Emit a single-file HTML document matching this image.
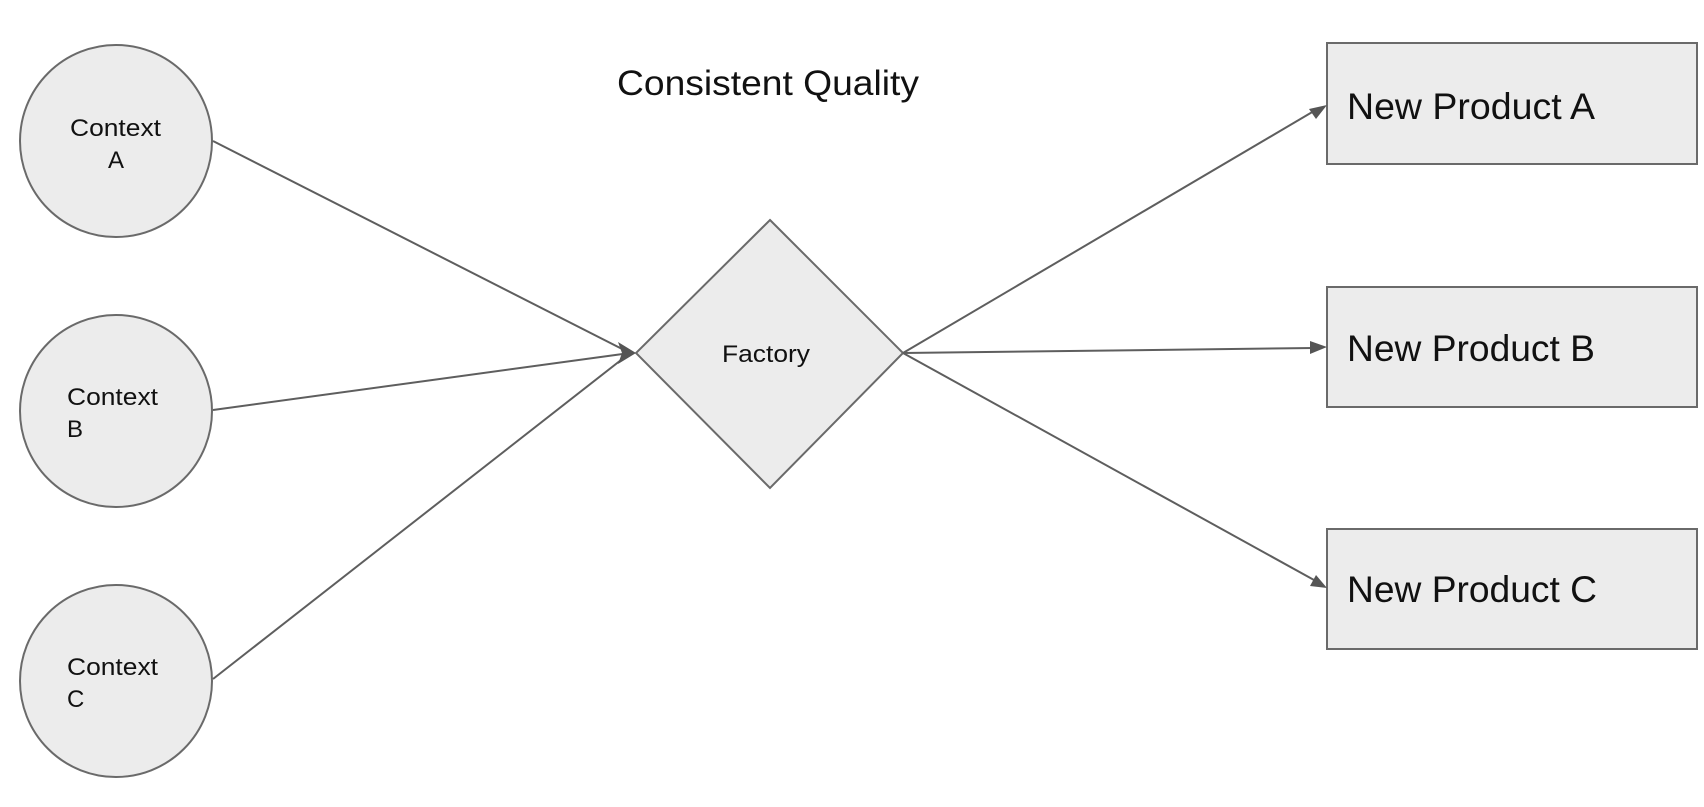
<!DOCTYPE html>
<html><head><meta charset="utf-8"><style>
html,body{margin:0;padding:0;background:#fff;}
svg{display:block;}
text{font-family:"Liberation Sans",Arial,sans-serif;fill:#111;}
</style></head><body>
<svg width="1704" height="807" viewBox="0 0 1704 807" xmlns="http://www.w3.org/2000/svg">
<g stroke="#6a6a6a" stroke-width="2" fill="#ececec">
<circle cx="116" cy="141" r="96"/>
<circle cx="116" cy="411" r="96"/>
<circle cx="116" cy="681" r="96"/>
<polygon points="770,220 903,353 770,488 636,353"/>
<rect x="1327" y="43" width="370" height="121"/>
<rect x="1327" y="287" width="370" height="120"/>
<rect x="1327" y="529" width="370" height="120"/>
</g>
<g stroke="#5e5e5e" stroke-width="2" fill="none">
<line x1="213" y1="141" x2="630" y2="353"/>
<line x1="213" y1="410" x2="630" y2="353"/>
<line x1="213" y1="679" x2="630" y2="353"/>
<line x1="903" y1="353" x2="1314" y2="111"/>
<line x1="903" y1="353" x2="1314" y2="348"/>
<line x1="903" y1="353" x2="1314" y2="580"/>
</g>
<g fill="#555">
<path d="M636,353 L618,342 L622,353 L618,364 Z"/>
<path d="M1327,105 L1309,109 L1316,119 Z"/>
<path d="M1327,347 L1310,341 L1310,354 Z"/>
<path d="M1327,588 L1316,575 L1310,586 Z"/>
</g>
<text x="617" y="95" font-size="35" textLength="302" lengthAdjust="spacingAndGlyphs">Consistent Quality</text>
<text x="70" y="136" font-size="24" textLength="91" lengthAdjust="spacingAndGlyphs">Context</text>
<text x="116" y="168" font-size="24" text-anchor="middle">A</text>
<text x="67" y="405" font-size="24" textLength="91" lengthAdjust="spacingAndGlyphs">Context</text>
<text x="67" y="437" font-size="24">B</text>
<text x="67" y="675" font-size="24" textLength="91" lengthAdjust="spacingAndGlyphs">Context</text>
<text x="67" y="707" font-size="24">C</text>
<text x="722" y="362" font-size="24" textLength="88" lengthAdjust="spacingAndGlyphs">Factory</text>
<text x="1347" y="119" font-size="37" textLength="248" lengthAdjust="spacingAndGlyphs">New Product A</text>
<text x="1347" y="361" font-size="37" textLength="248" lengthAdjust="spacingAndGlyphs">New Product B</text>
<text x="1347" y="602" font-size="37" textLength="250" lengthAdjust="spacingAndGlyphs">New Product C</text>
</svg>
</body></html>
